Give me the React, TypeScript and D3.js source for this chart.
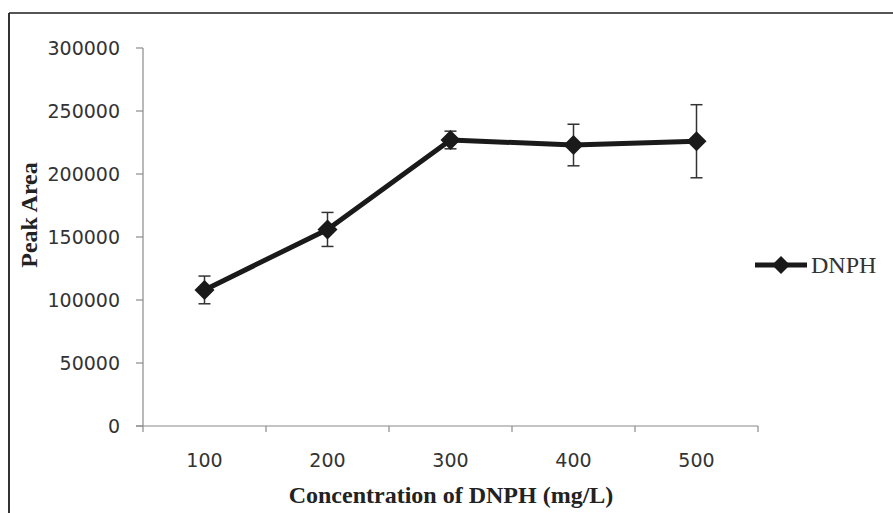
import React from "react";
import * as d3 from "d3";

const categories = ["100", "200", "300", "400", "500"];
const values = [108000, 156000, 227000, 223000, 226000];
const errors = [11000, 13500, 7000, 16500, 29000];
const yTicks = [0, 50000, 100000, 150000, 200000, 250000, 300000];
const seriesName = "DNPH";

export default function App() {
  const W = 893, H = 513;
  const left = 143, right = 758, top = 48, bottom = 426;
  const x = d3.scaleBand<string>().domain(categories).range([left, right]);
  const y = d3.scaleLinear().domain([0, 300000]).range([bottom, top]);
  const cx = (c: string) => (x(c) as number) + x.bandwidth() / 2;
  const pts: [number, number][] = categories.map((c, i) => [cx(c), y(values[i])]);
  const line = d3.line()(pts) as string;
  const diamond = (px: number, py: number, r: number) =>
    `M${px},${py - r}L${px + r},${py}L${px},${py + r}L${px - r},${py}Z`;
  const xEdges = [...categories.map((c) => x(c) as number), right];
  const axisColor = "#8a8a8a";
  const dark = "#1a1a1a";
  const sans = "'DejaVu Sans', Verdana, sans-serif";
  const serif = "'Liberation Serif', 'Times New Roman', serif";
  return (
    <svg width={W} height={H} style={{ position: "absolute", left: 0, top: 0, background: "#fff" }}>
      <rect x={0} y={0} width={W} height={H} fill="#fff" />
      <line x1={9} y1={13} x2={W} y2={13} stroke="#555" strokeWidth={2} />
      <line x1={9} y1={13} x2={9} y2={H} stroke="#333" strokeWidth={2} />
      {/* y axis */}
      <line x1={left} y1={top} x2={left} y2={bottom} stroke={axisColor} strokeWidth={1.2} />
      {yTicks.map((t) => (
        <g key={t}>
          <line x1={left - 7} x2={left} y1={y(t)} y2={y(t)} stroke={axisColor} strokeWidth={1.2} />
          <text x={120} y={y(t)} dy="0.36em" textAnchor="end" fontFamily={sans} fontSize={19} fill="#333">
            {t}
          </text>
        </g>
      ))}
      {/* x axis */}
      <line x1={left - 7} y1={bottom} x2={right} y2={bottom} stroke={axisColor} strokeWidth={1.2} />
      {xEdges.map((e, i) => (
        <line key={i} x1={e} x2={e} y1={bottom} y2={bottom + 6} stroke={axisColor} strokeWidth={1.2} />
      ))}
      {categories.map((c) => (
        <text key={c} x={cx(c)} y={467} textAnchor="middle" fontFamily={sans} fontSize={19} fill="#333">
          {c}
        </text>
      ))}
      {/* titles */}
      <text x={451} y={503} textAnchor="middle" fontFamily={serif} fontWeight="bold" fontSize={24} fill="#222">
        Concentration of DNPH (mg/L)
      </text>
      <text transform={`translate(37,215) rotate(-90)`} textAnchor="middle" fontFamily={serif} fontWeight="bold" fontSize={24} fill="#222">
        Peak Area
      </text>
      {/* error bars */}
      {categories.map((c, i) => {
        const px = cx(c);
        const y1 = y(values[i] + errors[i]);
        const y2 = y(values[i] - errors[i]);
        return (
          <g key={c} stroke="#333" strokeWidth={1.5}>
            <line x1={px} x2={px} y1={y1} y2={y2} />
            <line x1={px - 6} x2={px + 6} y1={y1} y2={y1} />
            <line x1={px - 6} x2={px + 6} y1={y2} y2={y2} />
          </g>
        );
      })}
      {/* line */}
      <path d={line} fill="none" stroke={dark} strokeWidth={5} strokeLinejoin="round" />
      {pts.map(([px, py], i) => (
        <path key={i} d={diamond(px, py, 10)} fill={dark} />
      ))}
      {/* legend */}
      <line x1={755} x2={807} y1={265} y2={265} stroke={dark} strokeWidth={5} />
      <path d={diamond(781, 265, 9)} fill={dark} />
      <text x={811} y={265} dy="0.35em" fontFamily={serif} fontSize={24} fill="#333">
        {seriesName}
      </text>
    </svg>
  );
}
